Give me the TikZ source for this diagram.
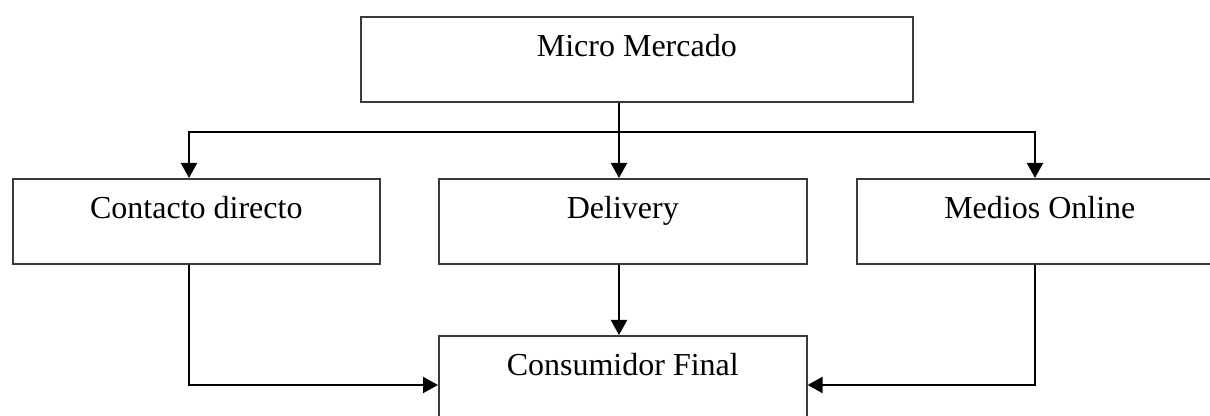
\documentclass[tikz,border=0pt]{standalone}
\usepackage{fontspec}
\setmainfont{Liberation Serif}
\usetikzlibrary{arrows.meta, positioning, calc}
\definecolor{cBorde}{HTML}{3A3A3A}
\definecolor{cLinea}{HTML}{000000}

\begin{document}
\begin{tikzpicture}[x=1pt, y=1pt, font=\fontsize{16}{19}\selectfont,
    caja/.style={draw=cBorde, line width=0.8pt, minimum width=#1,
        minimum height=42.5pt, inner sep=0pt, anchor=north west},
    caja/.default=184pt,
    texto/.style={inner sep=0pt, anchor=base},
    flecha/.style={draw=cLinea, line width=1.1pt,
        -{Triangle[width=8pt,length=7.5pt]}}]
    \clip (0,0) rectangle (605,208);
    % cajas
    \node[caja=276pt] (micro) at (180,200) {};
    \node[caja=183.5pt] (contacto) at (6,119) {};
    \node[caja] (delivery) at (219,119) {};
    \node[caja=183pt] (online) at (428,119) {};
    \node[caja] (consumidor) at (219,40.5) {};
    \node[texto] (tMicro) at ([yshift=-20.5pt]micro.north) {Micro Mercado};
    \node[texto] (tContacto) at ([yshift=-20.5pt]contacto.north) {Contacto directo};
    \node[texto] (tDelivery) at ([yshift=-20.5pt]delivery.north) {Delivery};
    \node[texto] (tOnline) at ([yshift=-20.5pt]online.north) {Medios Online};
    \node[texto] (tConsumidor) at ([yshift=-20.5pt]consumidor.north) {Consumidor Final};
    % conectores
    \coordinate (bus) at (309.5,142);
    \coordinate (colIzq) at (94.5,142);
    \coordinate (colDer) at (517.5,142);
    \coordinate (nivel) at (0,15.5);
    \draw[cLinea, line width=1.1pt] (micro.south -| bus) -- (bus);
    \draw[flecha] (bus) -| (colIzq |- contacto.north);
    \draw[flecha] (bus) -| (colDer |- online.north);
    \draw[flecha] (bus) -- (bus |- delivery.north);
    \draw[flecha] (delivery.south -| bus) -- (bus |- consumidor.north);
    \draw[flecha] (colIzq |- contacto.south) |- (consumidor.west |- nivel);
    \draw[flecha] (colDer |- online.south) |- (consumidor.east |- nivel);
\end{tikzpicture}
\end{document}
